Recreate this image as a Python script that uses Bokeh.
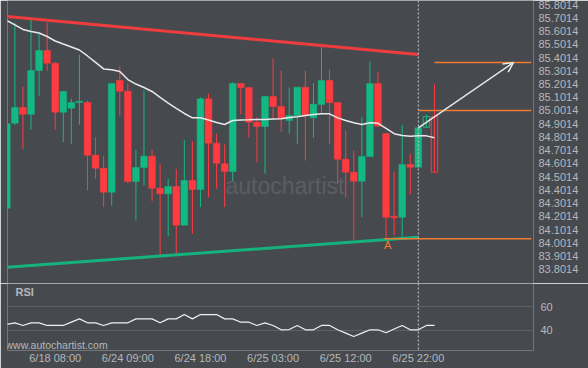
from bokeh.plotting import figure
from bokeh.layouts import column
from bokeh.models import (ColumnDataSource, FixedTicker, NumeralTickFormatter, Span,
                          Label, Arrow, OpenHead, Range1d)
from bokeh.embed import file_html
from bokeh.resources import INLINE

# ---------------- data ----------------
opens = [84.264, 84.906, 85.024, 84.974, 85.303, 85.454, 85.358, 84.989, 85.019, 85.062,
         85.062, 84.664, 84.566, 84.385, 85.228, 85.147, 84.466, 84.571, 84.657, 84.415,
         84.373, 84.428, 84.136, 84.473, 84.405, 85.090, 84.755, 84.599, 84.541, 85.205,
         85.175, 84.913, 84.881, 85.107, 85.032, 84.926, 84.964, 85.177, 84.946, 85.047,
         85.228, 85.062, 84.634, 84.536, 84.468, 84.654, 85.205, 84.828, 84.204, 84.196,
         84.594, 84.573, 84.875, 84.956]
highs = [84.901, 85.663, 85.180, 85.686, 85.585, 85.663, 85.371, 85.145, 85.090, 85.422,
         85.077, 84.800, 84.660, 85.205, 85.334, 85.205, 84.705, 85.152, 84.705, 84.594,
         84.486, 84.561, 84.780, 84.767, 85.102, 85.127, 84.826, 84.745, 85.215, 85.205,
         85.175, 84.951, 85.107, 85.392, 85.303, 85.173, 85.177, 85.303, 85.210, 85.487,
         85.309, 85.062, 84.850, 84.700, 84.951, 85.371, 85.290, 84.828, 84.539, 84.894,
         84.675, 84.881, 84.971, 85.198]
lows = [84.264, 84.894, 84.712, 84.856, 85.112, 85.301, 84.856, 84.762, 84.750, 84.894,
        84.398, 84.486, 84.272, 84.284, 84.961, 84.453, 84.171, 84.435, 84.317, 83.907,
        84.053, 83.907, 84.136, 84.071, 84.272, 84.347, 84.411, 84.272, 84.460, 84.971,
        84.795, 84.611, 84.524, 84.931, 84.838, 84.826, 84.750, 84.624, 84.795, 84.977,
        84.745, 84.448, 84.347, 84.026, 84.196, 84.654, 84.883, 84.033, 84.058, 84.045,
        84.367, 84.571, 84.715, 84.432]
closes = [84.901, 85.024, 84.974, 85.303, 85.454, 85.358, 84.989, 85.145, 85.062, 85.072,
          84.664, 84.566, 84.385, 85.205, 85.147, 84.466, 84.571, 84.657, 84.415, 84.373,
          84.428, 84.136, 84.473, 84.405, 85.090, 84.755, 84.604, 84.541, 85.205, 85.175,
          84.913, 84.881, 85.107, 85.032, 84.939, 84.964, 85.177, 84.964, 85.049, 85.228,
          85.062, 84.634, 84.536, 84.468, 84.654, 85.205, 84.883, 84.196, 84.192, 84.594,
          84.573, 84.871, 84.956, 84.536]
moving_avg = [85.681, 85.647, 85.613, 85.598, 85.586, 85.560, 85.526, 85.503, 85.481, 85.458,
              85.413, 85.364, 85.315, 85.309, 85.296, 85.235, 85.201, 85.175, 85.145, 85.100,
              85.057, 85.017, 84.979, 84.946, 84.946, 84.930, 84.911, 84.896, 84.926, 84.930,
              84.931, 84.933, 84.933, 84.937, 84.939, 84.949, 84.954, 84.964, 84.971, 84.976,
              84.976, 84.946, 84.926, 84.909, 84.896, 84.909, 84.905, 84.866, 84.826, 84.813,
              84.807, 84.811, 84.810, 84.795]
rsi = [45.0, 46.4, 44.2, 46.4, 46.4, 44.2, 44.2, 44.2, 47.0, 49.7,
       46.4, 46.4, 44.2, 46.4, 46.4, 46.4, 49.7, 49.7, 49.7, 46.4,
       49.7, 49.7, 53.3, 49.7, 53.3, 53.3, 53.3, 49.7, 49.7, 46.9,
       46.9, 44.2, 46.4, 44.2, 40.6, 40.8, 44.2, 40.6, 40.6, 44.2,
       44.2, 40.6, 37.8, 35.0, 37.8, 40.6, 40.6, 38.1, 41.2, 44.2,
       40.6, 40.6, 44.2, 44.2]
hollow_from = 52  # last candles drawn as outlines

tick_index = [6, 15, 24, 33, 42, 51]
tick_labels = ["6/18 08:00", "6/24 09:00", "6/24 18:00", "6/25 03:00", "6/25 12:00", "6/25 22:00"]
price_ticks = [83.8014, 83.9014, 84.0014, 84.1014, 84.2014, 84.3014, 84.4014, 84.5014, 84.6014,
               84.7014, 84.8014, 84.9014, 85.0014, 85.1014, 85.2014, 85.3014, 85.4014, 85.5014,
               85.6014, 85.7014, 85.8014]
rsi_ticks = [40, 60]

resistance_x = [0, 51]
resistance_y = [85.711, 85.424]
support_x = [0, 51]
support_y = [83.819, 84.045]
target_levels = [85.364, 85.0014, 84.033]
target_start = [53, 51, 46.8]
target_end = 65.0
arrow_start = (51, 84.871)
arrow_end = (62.8, 85.364)
point_a = (47.2, 83.983)
current_index = 51

# ---------------- style ----------------
BG = "#464a4f"
GREEN = "#13b982"
RED = "#fe3b3f"
ORANGE = "#f07a32"
LABEL = "#b4b8bc"
FONT = "Liberation Sans"

n = len(opens)
idx = list(range(n))
up = [c >= o for o, c in zip(opens, closes)]
colors = [GREEN if u else RED for u in up]
top = [max(o, c) for o, c in zip(opens, closes)]
bot = [min(o, c) for o, c in zip(opens, closes)]
bot = [b if t - b > 0.006 else t - 0.006 for t, b in zip(top, bot)]

solid = ColumnDataSource(dict(x=idx[:hollow_from], top=top[:hollow_from], bottom=bot[:hollow_from],
                              high=highs[:hollow_from], low=lows[:hollow_from], color=colors[:hollow_from]))
hollow = ColumnDataSource(dict(x=idx[hollow_from:], top=top[hollow_from:], bottom=bot[hollow_from:],
                               high=highs[hollow_from:], low=lows[hollow_from:], color=colors[hollow_from:]))

x_range = Range1d(0.087, 65.27)


def style_axis(ax, standoff):
    ax.axis_line_color = None
    ax.major_tick_line_color = None
    ax.minor_tick_line_color = None
    ax.major_tick_out = 0
    ax.major_tick_in = 0
    ax.minor_tick_out = 0
    ax.minor_tick_in = 0
    ax.major_label_text_color = LABEL
    ax.major_label_text_font = FONT
    ax.major_label_text_font_size = "11px"
    ax.major_label_standoff = standoff


p = figure(width=588, height=283, x_range=x_range, y_range=Range1d(83.6957, 85.8316),
           output_backend="svg", toolbar_location=None, y_axis_location="right",
           min_border_left=7, min_border_right=55, min_border_top=0, min_border_bottom=0)
p.background_fill_color = BG
p.border_fill_color = BG
p.outline_line_color = None
p.xaxis.visible = False
p.xgrid.visible = False
p.ygrid.visible = False
ya = p.yaxis[0]
ya.ticker = FixedTicker(ticks=price_ticks)
ya.formatter = NumeralTickFormatter(format="0.0000")
style_axis(ya, 5)

# watermark
p.add_layout(Label(x=27.1, y=84.428, text="autochartist", text_color="#5a5e63",
                   text_font=FONT, text_font_size="23px", text_baseline="middle", text_align="left"))

# candles
p.segment("x", "high", "x", "low", source=solid, color="color", line_width=1)
p.vbar(x="x", top="top", bottom="bottom", width=0.83, source=solid,
       fill_color="color", line_color="color", line_width=0.5)
p.segment("x", "high", "x", "bottom", source=hollow, color="color", line_width=1)
p.vbar(x="x", top="top", bottom="bottom", width=0.8, source=hollow,
       fill_alpha=0, line_color="color", line_width=1)

# moving average
p.line(idx, moving_avg, line_color="#e8e8e8", line_width=1.5)

# pattern lines
p.line(resistance_x, resistance_y, line_color="#f03c3e", line_width=3)
p.line(support_x, support_y, line_color="#16b27e", line_width=3)

# target levels
for lvl, st in zip(target_levels, target_start):
    p.line([st, target_end], [lvl, lvl], line_color=ORANGE, line_width=1.5)

p.add_layout(Arrow(end=OpenHead(line_color="#e8e8e8", line_width=1.5, size=10),
                   x_start=arrow_start[0], y_start=arrow_start[1],
                   x_end=arrow_end[0], y_end=arrow_end[1],
                   line_color="#e8e8e8", line_width=1.5))
p.add_layout(Label(x=point_a[0], y=point_a[1], text="A", text_color=ORANGE, text_font=FONT,
                   text_font_size="11px", text_align="center", text_baseline="middle"))
p.add_layout(Span(location=current_index, dimension="height", line_color="#c8c8c8",
                  line_dash="2 2", line_width=1))

# ---------------- RSI panel ----------------
r = figure(width=588, height=85, x_range=x_range, y_range=Range1d(23.33, 79.17),
           output_backend="svg", toolbar_location=None, y_axis_location="right",
           min_border_left=7, min_border_right=55, min_border_top=0, min_border_bottom=18)
r.background_fill_color = BG
r.border_fill_color = BG
r.outline_line_color = None
r.xgrid.visible = False
r.ygrid.grid_line_color = "#5d6165"
r.ygrid.grid_line_width = 1
ry = r.yaxis[0]
ry.ticker = FixedTicker(ticks=rsi_ticks)
style_axis(ry, 7)
r.ygrid.ticker = FixedTicker(ticks=rsi_ticks)
rx = r.xaxis[0]
rx.ticker = FixedTicker(ticks=tick_index)
rx.major_label_overrides = {i: t for i, t in zip(tick_index, tick_labels)}
style_axis(rx, 1)

r.line(idx, rsi, line_color="#f0f0f0", line_width=1.2)
r.add_layout(Span(location=current_index, dimension="height", line_color="#c8c8c8",
                  line_dash="2 2", line_width=1))
r.add_layout(Label(x=1.08, y=71.7, text="RSI", text_color=LABEL, text_font=FONT,
                   text_font_size="11px", text_font_style="bold", text_baseline="middle"))
r.add_layout(Label(x=-0.16, y=27.5, text="www.autochartist.com", text_color=LABEL, text_font=FONT,
                   text_font_size="10.5px", text_baseline="middle"))

layout = column(p, r, spacing=0)
open("out.html", "w").write(file_html(layout, INLINE))
